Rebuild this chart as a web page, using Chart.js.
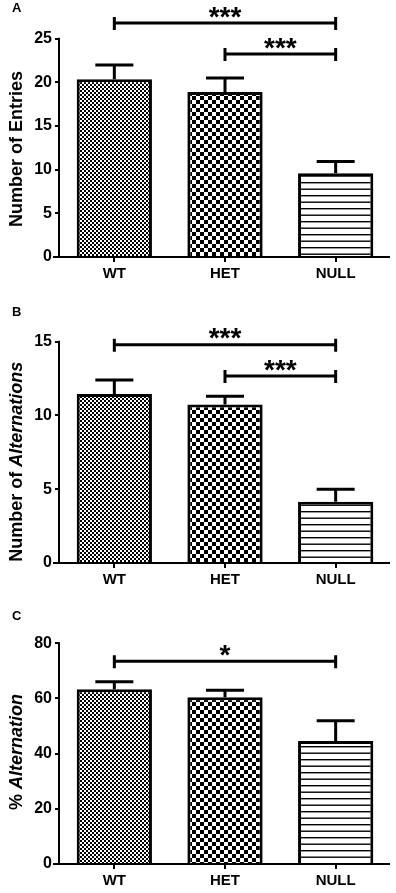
<!DOCTYPE html>
<html><head><meta charset="utf-8">
<script src="https://cdn.jsdelivr.net/npm/chart.js@4/dist/chart.umd.min.js"></script>
<style>
html,body{margin:0;padding:0;background:#fff;}
#wrap{position:relative;width:396px;height:893px;overflow:hidden;}
canvas{position:absolute;left:0;}
</style></head><body>
<div id="wrap">
<canvas id="cA" width="396" height="290" style="top:0px;width:396px;height:290px"></canvas>
<canvas id="cB" width="396" height="300" style="top:290px;width:396px;height:300px"></canvas>
<canvas id="cC" width="396" height="303" style="top:590px;width:396px;height:303px"></canvas>
</div>
<script>
// ---- data ----
const categories = ['WT', 'HET', 'NULL'];

const entriesMean = [20.35, 18.9, 9.6];
const entriesSem  = [1.65, 1.6, 1.35];
const entriesTicks = [0, 5, 10, 15, 20, 25];
const entriesBracketFrom = [0, 1];
const entriesBracketTo   = [2, 2];
const entriesBracketY    = [26.8, 23.25];
const entriesBracketText = ['***', '***'];

const altMean = [11.45, 10.75, 4.15];
const altSem  = [0.95, 0.55, 0.85];
const altTicks = [0, 5, 10, 15];
const altBracketFrom = [0, 1];
const altBracketTo   = [2, 2];
const altBracketY    = [14.8, 12.67];
const altBracketText = ['***', '***'];

const pctMean = [63.3, 60.4, 44.6];
const pctSem  = [2.7, 2.6, 7.3];
const pctTicks = [0, 20, 40, 60, 80];
const pctBracketFrom = [0];
const pctBracketTo   = [2];
const pctBracketY    = [73.5];
const pctBracketText = ['*'];

const titleA = [['Number of ', false], ['Entries', false]];
const titleB = [['Number of ', false], ['Alternations', true]];
const titleC = [['% ', false], ['Alternation', true]];

// ---- styling ----
const FONT = "'Liberation Sans', Arial, Helvetica, sans-serif";
Chart.defaults.font.family = FONT;
Chart.defaults.color = '#000';

function makePattern(kind) {
  const c = document.createElement('canvas');
  const x = c.getContext('2d');
  if (kind === 'fine') {
    c.width = 4; c.height = 4;
    x.fillStyle = '#000'; x.fillRect(0, 0, 4, 4);
    x.fillStyle = '#fff'; x.fillRect(0, 0, 2, 2); x.fillRect(2, 2, 2, 2);
  } else if (kind === 'coarse') {
    c.width = 8; c.height = 8;
    x.fillStyle = '#fff'; x.fillRect(0, 0, 8, 8);
    x.fillStyle = '#000'; x.fillRect(0, 0, 4, 4); x.fillRect(4, 4, 4, 4);
  } else {
    c.width = 4; c.height = 13;
    x.fillStyle = '#fff'; x.fillRect(0, 0, 4, 13);
    x.fillStyle = '#000'; x.fillRect(0, 0, 4, 1.4); x.fillRect(0, 6.5, 4, 1.4);
  }
  return x.createPattern(c, 'repeat');
}

function buildPanel(cfg) {
  const el = document.getElementById(cfg.id);
  const fills = [makePattern('fine'), makePattern('coarse'), makePattern('stripe')];
  const maxTick = cfg.ticks[cfg.ticks.length - 1];
  const deco = {
    id: 'deco',
    afterDatasetsDraw(chart) {
      const ctx = chart.ctx, xs = chart.scales.x, ys = chart.scales.y, ca = chart.chartArea;
      ctx.save();
      ctx.strokeStyle = '#000';
      ctx.fillStyle = '#000';
      // error bars
      ctx.lineWidth = 3;
      ctx.beginPath();
      cfg.mean.forEach((m, i) => {
        const xc = xs.getPixelForValue(i);
        const yt = ys.getPixelForValue(m);
        const yc = ys.getPixelForValue(m + cfg.sem[i]);
        ctx.moveTo(xc, yt); ctx.lineTo(xc, yc);
        ctx.moveTo(xc - 19, yc); ctx.lineTo(xc + 19, yc);
      });
      ctx.stroke();
      // axes
      const y0 = ys.getPixelForValue(0);
      const yT = ys.getPixelForValue(maxTick);
      ctx.lineWidth = 2;
      ctx.beginPath();
      ctx.moveTo(ca.left, y0); ctx.lineTo(ca.left, yT - 1);
      ctx.moveTo(ca.left - 6, y0); ctx.lineTo(ca.right - 1, y0);
      ctx.stroke();
      // brackets
      ctx.lineWidth = 3;
      cfg.bFrom.forEach((f, i) => {
        const x1 = xs.getPixelForValue(f), x2 = xs.getPixelForValue(cfg.bTo[i]);
        const yb = ys.getPixelForValue(cfg.bY[i]);
        ctx.beginPath();
        ctx.moveTo(x1, yb); ctx.lineTo(x2, yb);
        ctx.moveTo(x1, yb - 6); ctx.lineTo(x1, yb + 7);
        ctx.moveTo(x2, yb - 6); ctx.lineTo(x2, yb + 7);
        ctx.stroke();
        const fs = 28;
        ctx.font = 'bold ' + fs + 'px ' + FONT;
        ctx.textAlign = 'center';
        ctx.textBaseline = 'alphabetic';
        const m = ctx.measureText(cfg.bText[i]);
        const asc = m.actualBoundingBoxAscent, desc = m.actualBoundingBoxDescent;
        const centerY = yb - 11;
        ctx.fillText(cfg.bText[i], (x1 + x2) / 2, centerY + (asc - desc) / 2);
      });
      // y title
      ctx.save();
      ctx.translate(17, cfg.titleY);
      ctx.rotate(-Math.PI / 2);
      ctx.textBaseline = 'middle';
      ctx.textAlign = 'left';
      let total = 0;
      cfg.title.forEach(([t, it]) => { ctx.font = (it ? 'italic ' : '') + 'bold 18px ' + FONT; total += ctx.measureText(t).width; });
      let xp = -total / 2;
      cfg.title.forEach(([t, it]) => { ctx.font = (it ? 'italic ' : '') + 'bold 18px ' + FONT; ctx.fillText(t, xp, 0); xp += ctx.measureText(t).width; });
      ctx.restore();
      // panel letter
      ctx.font = 'bold 13px ' + FONT;
      ctx.textAlign = 'left';
      ctx.textBaseline = 'middle';
      ctx.fillText(cfg.letter, 12, cfg.letterY);
      ctx.restore();
    }
  };
  return new Chart(el, {
    type: 'bar',
    data: {
      labels: categories,
      datasets: [{
        data: cfg.mean,
        backgroundColor: fills,
        borderColor: '#000',
        borderWidth: 3,
        borderSkipped: 'start',
        barPercentage: 0.68,
        categoryPercentage: 1
      }]
    },
    options: {
      responsive: false,
      devicePixelRatio: 1,
      animation: false,
      layout: { padding: { top: cfg.padTop, left: 0, right: 5, bottom: 0 } },
      plugins: { legend: { display: false }, tooltip: { enabled: false } },
      scales: {
        x: {
          type: 'category',
          offset: true,
          grid: { display: true, offset: false, drawOnChartArea: false, drawTicks: true, tickLength: 5, color: '#000', lineWidth: 2 },
          border: { display: false },
          ticks: { font: { size: 15, weight: 'bold' }, color: '#000', padding: 3, maxRotation: 0 },
          afterFit: s => { s.height = cfg.xh; }
        },
        y: {
          min: 0, max: cfg.ymax,
          afterBuildTicks: s => { s.ticks = cfg.ticks.map(v => ({ value: v })); },
          grid: { display: true, drawOnChartArea: false, drawTicks: true, tickLength: 4, color: '#000', lineWidth: 2 },
          border: { display: false },
          ticks: { font: { size: 16, weight: 'bold' }, color: '#000', padding: 3 },
          afterFit: s => { s.width = 59; }
        }
      }
    },
    plugins: [deco]
  });
}

buildPanel({ id: 'cA', mean: entriesMean, sem: entriesSem, ticks: entriesTicks, ymax: 28, padTop: 9.8, xh: 33,
  bFrom: entriesBracketFrom, bTo: entriesBracketTo, bY: entriesBracketY, bText: entriesBracketText,
  title: titleA, titleY: 149, letter: 'A', letterY: 8.5 });
buildPanel({ id: 'cB', mean: altMean, sem: altSem, ticks: altTicks, ymax: 17, padTop: 22.2, xh: 27,
  bFrom: altBracketFrom, bTo: altBracketTo, bY: altBracketY, bText: altBracketText,
  title: titleB, titleY: 171.7, letter: 'B', letterY: 22.5 });
buildPanel({ id: 'cC', mean: pctMean, sem: pctSem, ticks: pctTicks, ymax: 84, padTop: 42.2, xh: 29,
  bFrom: pctBracketFrom, bTo: pctBracketTo, bY: pctBracketY, bText: pctBracketText,
  title: titleC, titleY: 162, letter: 'C', letterY: 26.7 });
</script>
</body></html>
